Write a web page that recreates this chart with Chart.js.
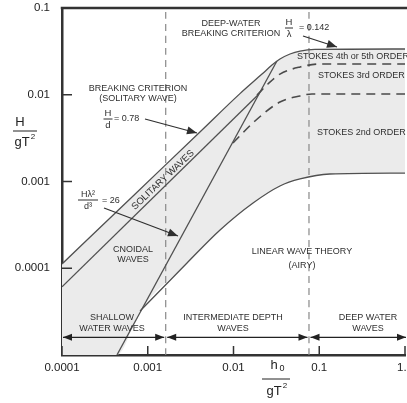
<!DOCTYPE html>
<html>
<head>
<meta charset="utf-8">
<script src="https://cdn.jsdelivr.net/npm/chart.js@4.4.1/dist/chart.umd.min.js"></script>
<style>
  html, body { margin: 0; padding: 0; background: #fff; }
</style>
</head>
<body>
<canvas id="chart" width="407" height="403"></canvas>
<script>
// axis ranges and tick values
const xMin = 1e-4, xMax = 1;
const yMin = 1e-5, yMax = 0.1;
const xTicks = [1e-4, 1e-3, 1e-2, 1e-1, 1];
const xTickLabels = ['0.0001', '0.001', '0.01', '0.1', '1.0'];
const yTicks = [1e-4, 1e-3, 1e-2, 1e-1];
const yTickLabels = ['0.0001', '0.001', '0.01', '0.1'];

// breaking limit, H/d = 0.78 bending into H/L = 0.142
const breakX = [1e-4, 6.2e-4, 4.06e-3, 0.0119, 0.0215, 0.0281, 0.0348, 0.0456, 0.0597, 0.0891, 1];
const breakY = [1.12e-4, 6.3e-4, 3.72e-3, 0.0103, 0.0173, 0.0220, 0.0258, 0.0295, 0.0319, 0.0333, 0.0337];

// lower edge of the solitary wave strip
const solitaryX = [1e-4, 0.0198];
const solitaryY = [6.1e-5, 0.0102];

// Ursell line  H*L^2/d^3 = 26
const ursellX = [4.37e-4, 0.0321];
const ursellY = [1e-5, 0.0245];

// limit of linear (Airy) theory
const airyX = [8.13e-4, 2.87e-3, 6.97e-3, 0.0169, 0.0348, 0.0597, 0.133, 1];
const airyY = [3.21e-5, 1.15e-4, 2.76e-4, 5.65e-4, 8.87e-4, 1.07e-3, 1.22e-3, 1.25e-3];

// Stokes 3rd / 4th order boundary
const stokes34X = [0.0188, 0.0252, 0.0348, 0.0597, 0.102, 1];
const stokes34Y = [9.9e-3, 0.0133, 0.0173, 0.0209, 0.0226, 0.0226];

// Stokes 2nd / 3rd order boundary
const stokes23X = [9.86e-3, 0.0178, 0.0348, 0.0597, 0.0822, 1];
const stokes23Y = [2.78e-3, 4.98e-3, 8.24e-3, 9.68e-3, 0.0102, 0.0102];

// shallow / deep water limits of h/gT^2
const shallowLimit = 0.00162;
const deepLimit = 0.0759;
const zoneEdges = [xMin, shallowLimit, deepLimit, xMax];
const zoneArrowY = 1.6e-5;

const pts = (xs, ys) => xs.map((x, i) => ({ x: x, y: ys[i] }));

// lower edge of the grey area: axis floor, then Ursell line, then Airy limit
const shadeFloor = [{ x: xMin, y: yMin }, { x: ursellX[0], y: ursellY[0] }].concat(pts(airyX, airyY));

const FONT = '"Liberation Sans", Arial, Helvetica, sans-serif';
const INK = '#2f2f2f';
const LINE = '#505050';

function head(ctx, x, y, ang, len, half) {
  ctx.save();
  ctx.translate(x, y);
  ctx.rotate(ang);
  ctx.beginPath();
  ctx.moveTo(0, 0);
  ctx.lineTo(-len, -half);
  ctx.lineTo(-len, half);
  ctx.closePath();
  ctx.fill();
  ctx.restore();
}

function pointer(ctx, x1, y1, x2, y2) {
  ctx.beginPath();
  ctx.moveTo(x1, y1);
  ctx.lineTo(x2, y2);
  ctx.stroke();
  head(ctx, x2, y2, Math.atan2(y2 - y1, x2 - x1), 10, 4);
}

function label(ctx, s, x, y, align, size) {
  ctx.font = (size || 9) + 'px ' + FONT;
  ctx.textAlign = align || 'center';
  ctx.fillText(s, x, y);
}

function fraction(ctx, top, bottom, x, y, w, size) {
  label(ctx, top, x, y - size * 0.62, 'center', size);
  label(ctx, bottom, x, y + size * 0.68, 'center', size);
  ctx.beginPath();
  ctx.moveTo(x - w / 2, y);
  ctx.lineTo(x + w / 2, y);
  ctx.stroke();
}

const framePlugin = {
  id: 'frame',
  afterDraw(chart) {
    const { ctx, chartArea: a } = chart;
    const sx = chart.scales.x, sy = chart.scales.y;
    ctx.save();
    ctx.strokeStyle = '#333';
    ctx.fillStyle = '#333';

    // top border
    ctx.lineWidth = 2.5;
    ctx.beginPath();
    ctx.moveTo(a.left - 1.25, a.top);
    ctx.lineTo(chart.width, a.top);
    ctx.stroke();

    // inward tick marks
    ctx.lineWidth = 1.5;
    xTicks.forEach(v => {
      const px = sx.getPixelForValue(v);
      ctx.beginPath();
      ctx.moveTo(px, a.bottom);
      ctx.lineTo(px, a.bottom - 9);
      ctx.stroke();
    });
    yTicks.forEach(v => {
      const py = sy.getPixelForValue(v);
      ctx.beginPath();
      ctx.moveTo(a.left, py);
      ctx.lineTo(a.left + 10, py);
      ctx.stroke();
    });

    // depth zone arrows
    ctx.lineWidth = 1.3;
    ctx.strokeStyle = '#222';
    ctx.fillStyle = '#222';
    const ay = sy.getPixelForValue(zoneArrowY);
    for (let i = 0; i < zoneEdges.length - 1; i++) {
      const l = sx.getPixelForValue(zoneEdges[i]) + (i === 0 ? 1 : 1.5);
      const r = sx.getPixelForValue(zoneEdges[i + 1]) - (i === zoneEdges.length - 2 ? -1 : 1.5);
      ctx.beginPath();
      ctx.moveTo(l, ay);
      ctx.lineTo(r, ay);
      ctx.stroke();
      head(ctx, l, ay, Math.PI, 9, 3.5);
      head(ctx, r, ay, 0, 9, 3.5);
    }

    // annotations
    ctx.fillStyle = INK;
    ctx.strokeStyle = INK;
    ctx.textBaseline = 'middle';
    ctx.lineWidth = 1;

    label(ctx, 'DEEP-WATER', 231, 24);
    label(ctx, 'BREAKING CRITERION', 231, 34);
    fraction(ctx, 'H', '\u03bb', 289, 28, 8, 9.5);
    label(ctx, '= 0.142', 299, 28, 'left', 9);
    ctx.lineWidth = 1.2;
    pointer(ctx, 303, 36, 337, 47);

    label(ctx, 'STOKES 4th or 5th ORDER', 297, 57, 'left', 9);
    label(ctx, 'STOKES 3rd ORDER', 318, 76, 'left', 9);
    label(ctx, 'STOKES 2nd ORDER', 317, 133, 'left', 9);

    label(ctx, 'BREAKING CRITERION', 138, 89);
    label(ctx, '(SOLITARY WAVE)', 138, 99);
    ctx.lineWidth = 1;
    fraction(ctx, 'H', 'd', 108, 119, 9, 9.5);
    label(ctx, '= 0.78', 114, 119, 'left', 9);
    ctx.lineWidth = 1.2;
    pointer(ctx, 145, 119, 197, 133);

    ctx.lineWidth = 1;
    fraction(ctx, 'H\u03bb\u00b2', 'd\u00b3', 88, 200, 20, 9);
    label(ctx, '= 26', 102, 201, 'left', 9);
    ctx.lineWidth = 1.2;
    pointer(ctx, 104, 208, 178, 236);

    ctx.save();
    ctx.translate(163, 180);
    ctx.rotate(-43.5 * Math.PI / 180);
    label(ctx, 'SOLITARY WAVES', 0, 0, 'center', 9.5);
    ctx.restore();

    label(ctx, 'CNOIDAL', 133, 250);
    label(ctx, 'WAVES', 133, 260);
    label(ctx, 'LINEAR WAVE THEORY', 302, 252);
    label(ctx, '(AIRY)', 302, 266);
    label(ctx, 'SHALLOW', 112, 318);
    label(ctx, 'WATER WAVES', 112, 329);
    label(ctx, 'INTERMEDIATE DEPTH', 233, 318);
    label(ctx, 'WAVES', 233, 329);
    label(ctx, 'DEEP WATER', 368, 318);
    label(ctx, 'WAVES', 368, 329);

    // axis titles
    ctx.fillStyle = '#222';
    ctx.strokeStyle = '#222';
    ctx.lineWidth = 1;
    label(ctx, 'H', 20, 122, 'center', 13);
    ctx.beginPath(); ctx.moveTo(13, 131); ctx.lineTo(37, 131); ctx.stroke();
    label(ctx, 'gT', 22, 142, 'center', 13);
    label(ctx, '2', 33, 137, 'center', 8);

    label(ctx, 'h', 274, 365, 'center', 13);
    label(ctx, '0', 282, 369, 'center', 9);
    ctx.beginPath(); ctx.moveTo(262, 379); ctx.lineTo(290, 379); ctx.stroke();
    label(ctx, 'gT', 274, 391, 'center', 13);
    label(ctx, '2', 285, 386, 'center', 8);

    ctx.restore();
  }
};

const lineSet = (data, extra) => Object.assign({
  data: data,
  borderColor: LINE,
  borderWidth: 1.3,
  pointRadius: 0,
  fill: false,
  cubicInterpolationMode: 'monotone'
}, extra || {});

const tickFont = { family: FONT, size: 11.5 };

new Chart(document.getElementById('chart'), {
  type: 'line',
  data: {
    datasets: [
      lineSet(pts(breakX, breakY), { fill: 1, backgroundColor: '#ebebeb' }),
      lineSet(shadeFloor, { borderWidth: 0, borderColor: 'rgba(0,0,0,0)' }),
      lineSet(pts(solitaryX, solitaryY)),
      lineSet(pts(ursellX, ursellY)),
      lineSet(pts(airyX, airyY)),
      lineSet(pts(stokes34X, stokes34Y), { borderDash: [9, 6], borderWidth: 1.6, borderColor: '#4a4a4a' }),
      lineSet(pts(stokes23X, stokes23Y), { borderDash: [9, 6], borderWidth: 1.6, borderColor: '#4a4a4a' }),
      lineSet([{ x: shallowLimit, y: yMin }, { x: shallowLimit, y: yMax }], { borderDash: [7, 5], borderWidth: 1.2, borderColor: '#888' }),
      lineSet([{ x: deepLimit, y: yMin }, { x: deepLimit, y: yMax }], { borderDash: [7, 5], borderWidth: 1.2, borderColor: '#888' })
    ]
  },
  options: {
    responsive: false,
    animation: false,
    layout: { padding: { top: 8, right: 2, left: 0, bottom: 0 } },
    plugins: {
      legend: { display: false },
      tooltip: { enabled: false },
      filler: { drawTime: 'beforeDatasetsDraw' }
    },
    scales: {
      x: {
        type: 'logarithmic',
        min: xMin,
        max: xMax,
        grid: { display: false },
        border: { display: true, width: 2.5, color: '#333' },
        afterBuildTicks: s => { s.ticks = xTicks.map(v => ({ value: v })); },
        afterFit: s => { s.height = 48; s.paddingLeft = 0; s.paddingRight = 0; },
        ticks: {
          autoSkip: false,
          maxRotation: 0,
          padding: -2,
          color: '#222',
          font: tickFont,
          callback: (v, i) => xTickLabels[i]
        }
      },
      y: {
        type: 'logarithmic',
        min: yMin,
        max: yMax,
        grid: { display: false },
        border: { display: true, width: 2.5, color: '#333' },
        afterBuildTicks: s => { s.ticks = yTicks.map(v => ({ value: v })); },
        afterFit: s => { s.width = 62; s.paddingTop = 0; s.paddingBottom = 0; },
        ticks: {
          autoSkip: false,
          padding: 4,
          color: '#222',
          font: tickFont,
          callback: (v, i) => yTickLabels[i]
        }
      }
    }
  },
  plugins: [framePlugin]
});
</script>
</body>
</html>
